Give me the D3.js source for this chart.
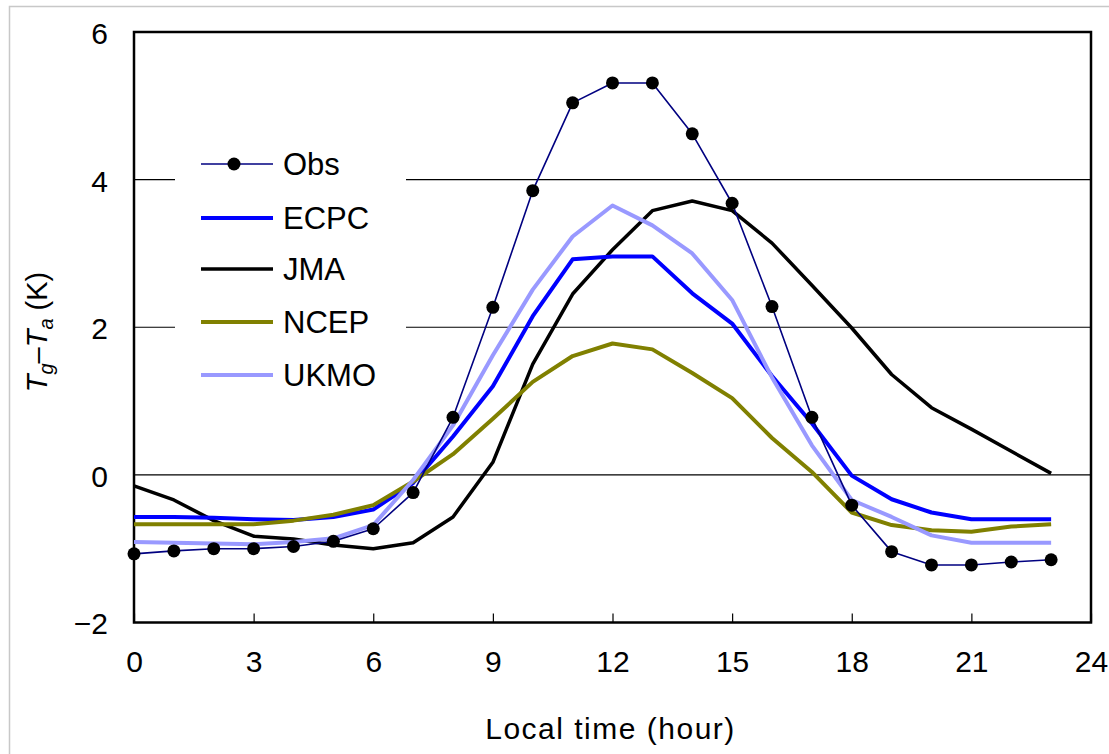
<!DOCTYPE html>
<html>
<head>
<meta charset="utf-8">
<script src="https://cdn.jsdelivr.net/npm/d3@7"></script>
<style>
  html, body { margin: 0; padding: 0; background: #fff; }
  svg text { font-family: "Liberation Sans", Arial, sans-serif; fill: #000; }
</style>
</head>
<body>
<svg id="chart" width="1109" height="754"></svg>
<script>
// Diurnal cycle of ground minus air temperature (K), hourly local time
const hours = d3.range(0, 24);
const obs  = [-1.07,-1.03,-1.00,-1.00,-0.97,-0.90,-0.73,-0.24,0.78,2.27,3.85,5.04,5.31,5.31,4.62,3.68,2.28,0.78,-0.41,-1.04,-1.22,-1.22,-1.18,-1.15];
const ecpc = [-0.57,-0.57,-0.58,-0.60,-0.61,-0.57,-0.47,-0.11,0.52,1.20,2.15,2.92,2.96,2.96,2.46,2.05,1.34,0.70,-0.01,-0.33,-0.51,-0.60,-0.60,-0.60];
const jma  = [-0.15,-0.34,-0.62,-0.83,-0.87,-0.95,-1.00,-0.92,-0.57,0.17,1.50,2.45,3.05,3.58,3.71,3.58,3.14,2.57,1.99,1.36,0.91,0.62,0.32,0.02];
const ncep = [-0.67,-0.67,-0.67,-0.67,-0.62,-0.54,-0.41,-0.09,0.28,0.76,1.26,1.61,1.78,1.70,1.38,1.04,0.50,0.04,-0.51,-0.68,-0.75,-0.77,-0.70,-0.67];
const ukmo = [-0.91,-0.92,-0.93,-0.94,-0.91,-0.86,-0.68,-0.07,0.67,1.62,2.51,3.23,3.65,3.38,3.00,2.37,1.32,0.40,-0.34,-0.57,-0.82,-0.92,-0.92,-0.92];

const xTicks = [0, 3, 6, 9, 12, 15, 18, 21, 24];
const yTicks = [-2, 0, 2, 4, 6];

const seriesNames = ["Obs", "ECPC", "JMA", "NCEP", "UKMO"];
const seriesData = [obs, ecpc, jma, ncep, ukmo];
const seriesColors = ["#000080", "#0000ff", "#000000", "#808000", "#9999ff"];
const seriesWidths = [1.6, 4, 3.5, 4, 4];

const svg = d3.select("#chart");
const W = 1109, H = 754;
const plot = { left: 134, right: 1091, top: 32, bottom: 622.5 };

// outer frame of the figure
svg.append("path")
  .attr("d", `M9.5,${H} L9.5,6.5 L${W},6.5`)
  .attr("fill", "none").attr("stroke", "#c8c8c8").attr("stroke-width", 1.5);

const x = d3.scaleLinear().domain([0, 24]).range([plot.left, plot.right]);
const y = d3.scaleLinear().domain([-2, 6]).range([plot.bottom, plot.top]);

// horizontal gridlines
svg.append("g")
  .selectAll("line")
  .data(yTicks.filter(v => v > -2 && v < 6))
  .join("line")
  .attr("x1", plot.left).attr("x2", plot.right)
  .attr("y1", d => y(d)).attr("y2", d => y(d))
  .attr("stroke", "#000").attr("stroke-width", 1.2);

// x axis: inward ticks, labels below
const xAxis = svg.append("g")
  .attr("transform", `translate(0,${plot.bottom})`)
  .call(d3.axisBottom(x).tickValues(xTicks).tickSizeInner(-9).tickSizeOuter(0).tickPadding(28));
xAxis.select(".domain").remove();
xAxis.selectAll(".tick line").attr("stroke", "#000").attr("stroke-width", 1.2);
xAxis.selectAll(".tick text")
  .attr("font-size", 30).attr("font-family", "Liberation Sans, Arial, sans-serif")
  .attr("dy", "0.71em");

// y axis labels
const yAxis = svg.append("g")
  .attr("transform", `translate(${plot.left},0)`)
  .call(d3.axisLeft(y).tickValues(yTicks).tickSize(0).tickPadding(26)
        .tickFormat(d => d < 0 ? "\u2212" + Math.abs(d) : String(d)));
yAxis.select(".domain").remove();
yAxis.selectAll(".tick text")
  .attr("font-size", 30).attr("font-family", "Liberation Sans, Arial, sans-serif")
  .attr("dy", "0.38em");

// plot frame
svg.append("rect")
  .attr("x", plot.left).attr("y", plot.top)
  .attr("width", plot.right - plot.left).attr("height", plot.bottom - plot.top)
  .attr("fill", "none").attr("stroke", "#000").attr("stroke-width", 2.5);

// legend (white box hides gridlines behind it)
const legend = svg.append("g");
legend.append("rect")
  .attr("x", 175).attr("y", 138).attr("width", 231).attr("height", 262)
  .attr("fill", "#fff");
const legendY = [164, 218, 269, 322, 375];
seriesNames.forEach((name, i) => {
  const g = legend.append("g").attr("transform", `translate(0,${legendY[i]})`);
  g.append("line")
    .attr("x1", 201).attr("x2", 273).attr("y1", 0).attr("y2", 0)
    .attr("stroke", seriesColors[i]).attr("stroke-width", seriesWidths[i]);
  if (name === "Obs") {
    g.append("circle").attr("cx", 234).attr("cy", 0).attr("r", 6.5).attr("fill", "#000");
  }
  g.append("text")
    .attr("x", 283).attr("y", 0).attr("dy", "0.36em")
    .attr("font-size", 31).text(name);
});

// series lines
const line = d3.line().x((d, i) => x(hours[i])).y(d => y(d));
const drawOrder = [2, 1, 3, 4, 0];
drawOrder.forEach(i => {
  svg.append("path")
    .datum(seriesData[i])
    .attr("d", line)
    .attr("fill", "none")
    .attr("stroke", seriesColors[i])
    .attr("stroke-width", seriesWidths[i])
    .attr("stroke-linejoin", "round");
});

// observation markers
svg.append("g")
  .selectAll("circle")
  .data(obs)
  .join("circle")
  .attr("cx", (d, i) => x(hours[i]))
  .attr("cy", d => y(d))
  .attr("r", 6.5)
  .attr("fill", "#000");

// x axis title
svg.append("text")
  .attr("x", (plot.left + plot.right) / 2 - 2).attr("y", 728)
  .attr("text-anchor", "middle").attr("dy", "0.35em")
  .attr("font-size", 30).attr("letter-spacing", 1.5)
  .text("Local time (hour)");

// y axis title: Tg–Ta (K)
const yt = svg.append("text")
  .attr("transform", `translate(37,332) rotate(-90)`)
  .attr("text-anchor", "middle").attr("dy", "0.35em")
  .attr("font-size", 29);
yt.append("tspan").attr("font-style", "italic").text("T");
yt.append("tspan").attr("font-style", "italic").attr("font-size", 20).attr("dy", 6).text("g");
yt.append("tspan").attr("dy", -6).text("\u2013");
yt.append("tspan").attr("font-style", "italic").text("T");
yt.append("tspan").attr("font-style", "italic").attr("font-size", 20).attr("dy", 6).text("a");
yt.append("tspan").attr("dy", -6).text(" (K)");
</script>
</body>
</html>
